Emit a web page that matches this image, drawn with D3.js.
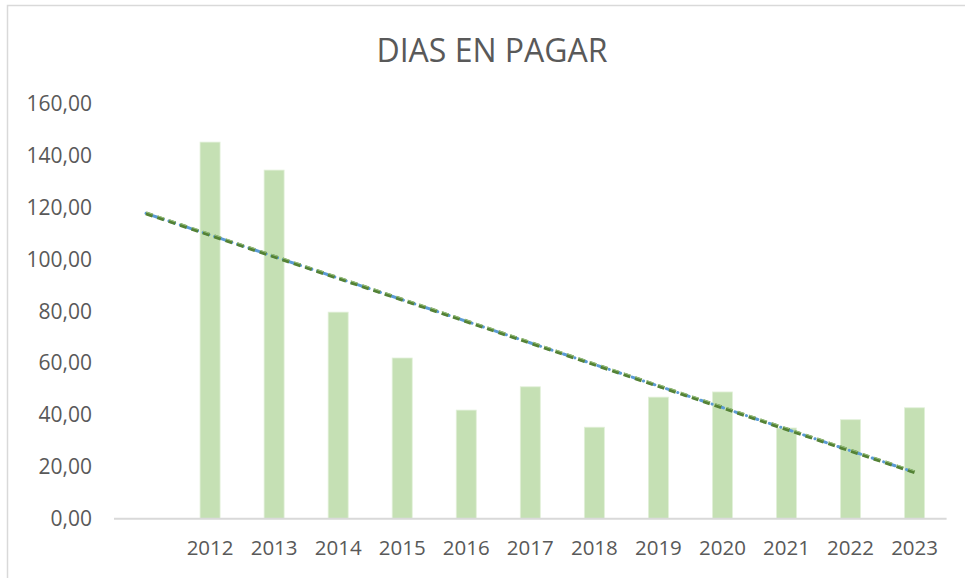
<!DOCTYPE html>
<html><head><meta charset="utf-8">
<script src="https://cdn.jsdelivr.net/npm/d3@7"></script>
<style>html,body{margin:0;padding:0;background:#fff;}svg{display:block;}</style>
</head><body>
<svg id="c" width="965" height="578"></svg>
<script>
// data
const categories = ["", "2012","2013","2014","2015","2016","2017","2018","2019","2020","2021","2022","2023"];
const years = ["2012","2013","2014","2015","2016","2017","2018","2019","2020","2021","2022","2023"];
const values = [145.3,134.5,79.7,62.0,41.9,50.9,35.3,46.9,48.9,35.0,38.2,42.8];
const trendCats = ["", "2023"];
const trendValues = [117.8, 17.9];
const yTicks = [0,20,40,60,80,100,120,140,160];
const title = "DIAS EN PAGAR";

const svg = d3.select("#c");
const font = "'Open Sans', sans-serif";

// chart border
svg.append("rect").attr("x",7.5).attr("y",5.5).attr("width",970).attr("height",590)
  .attr("fill","none").attr("stroke","#D9D9D9").attr("stroke-width",1.5);

const x = d3.scaleBand().domain(categories).range([114, 946.6])
  .paddingInner(0.6875).paddingOuter(0.34375);
const y = d3.scaleLinear().domain([0,160]).range([518.7, 104]);

// title
svg.append("text").attr("x",492).attr("y",62).attr("text-anchor","middle")
  .attr("font-family",font).attr("font-size",32).attr("fill","#595959").text(title);

// y axis labels (no line)
const yAxis = d3.axisLeft(y).tickValues(yTicks).tickSize(0).tickPadding(0)
  .tickFormat(d => d3.format(".2f")(d).replace(".", ","));
const gy = svg.append("g").attr("transform","translate(92,0)").call(yAxis);
gy.select(".domain").remove();
gy.selectAll("text").attr("font-family",font).attr("font-size",21).attr("fill","#595959");

// bars
svg.append("g").selectAll("rect").data(years).join("rect")
  .attr("x", d => x(d)).attr("width", x.bandwidth())
  .attr("y", (d,i) => y(values[i])).attr("height", (d,i) => y(0) - y(values[i]))
  .attr("fill","#C5E0B4").attr("stroke","#E2F0D9").attr("stroke-width",0.8);

// x axis
const xAxis = d3.axisBottom(x).tickSize(0).tickPadding(22);
const gx = svg.append("g").attr("transform",`translate(0,${y(0)})`).call(xAxis);
gx.select(".domain").attr("stroke","#D9D9D9").attr("stroke-width",2).attr("d",`M114,0H946.6`);
gx.selectAll("text").attr("font-family",font).attr("font-size",20.5).attr("fill","#595959");

// trendlines
const line = d3.line().x((d,i) => x(trendCats[i]) + x.bandwidth()/2).y((d) => y(d));
svg.append("path").datum(trendValues).attr("d", line).attr("fill","none")
  .attr("stroke","#5B9BD5").attr("stroke-width",3).attr("stroke-linecap","round")
  .attr("stroke-dasharray","0.1,6,6,6");
svg.append("path").datum(trendValues).attr("d", line).attr("fill","none")
  .attr("stroke","#548235").attr("stroke-width",3.8)
  .attr("stroke-dasharray","7,5");
svg.append("path").datum(trendValues).attr("d", line).attr("fill","none")
  .attr("stroke","#A9D18E").attr("stroke-width",0.8).attr("transform","translate(0,-1.4)")
  .attr("stroke-dasharray","7,5");
</script>
</body></html>
